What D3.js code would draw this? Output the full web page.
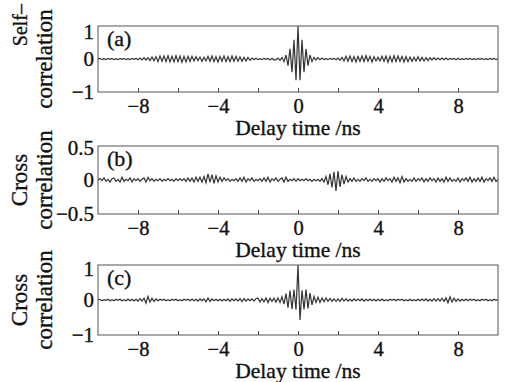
<!DOCTYPE html>
<html>
<head>
<meta charset="utf-8">
<script src="https://cdn.jsdelivr.net/npm/d3@7"></script>
<style>
  body { margin: 0; background: #fff; }
  svg text { font-family: "Liberation Serif", serif; fill: #111; stroke: #111; stroke-width: 0.35px; }
</style>
</head>
<body>
<div id="chart"></div>
<script>
// delay axis: samples every 0.1 ns from -10 ns to 10 ns
const tStart = -10;
const tStep = 0.1;

// (a) self-correlation
const selfCorr = [
  0, .02, -.02, .01, -.02, .02, -.01, .02, -.02, .01,
  -.02, .02, -.01, .02, -.02, .01, -.02, .02, -.01, .02,
  -.02, .03, -.03, .04, -.03, .04, -.05, .06, -.05, .07,
  -.08, .09, -.07, .09, -.08, .10, -.09, .08, -.09, .10,
  -.08, .09, -.10, .08, -.09, .08, -.07, .08, -.06, .07,
  -.05, .06, -.07, .05, -.06, .08, -.07, .09, -.08, .07,
  -.09, .08, -.07, .09, -.08, .07, -.08, .09, -.07, .08,
  -.07, .06, -.07, .05, -.06, .05, -.04, .03, -.02, .02,
  -.02, .01, -.02, .02, -.01, .02, -.03, .02, -.03, -.02,
  .03, -.04, .05, -.08, .12, -.20, .31, -.40, .58, -.64,
  1.0, -.64, .58, -.40, .31, -.20, .12, -.08, .05, -.03,
  .04, -.02, .03, -.02, .01, -.02, .02, -.01, .02, -.02,
  .03, -.04, .05, -.06, .08, -.07, .09, -.08, .07, -.09,
  .08, -.07, .09, -.08, .10, -.07, .08, -.09, .07, -.06,
  .05, -.06, .08, -.07, .09, -.10, .08, -.09, .10, -.08,
  .09, -.07, .08, -.09, .07, -.08, .06, -.07, .05, -.06,
  .07, -.06, .05, -.06, .04, -.05, .04, -.03, .04, -.03,
  .03, -.02, .03, -.02, .03, -.02, .02, -.01, .02, -.02,
  .02, -.02, .01, -.02, .02, -.01, .02, -.02, .01, -.02,
  .02, -.01, .02, -.02, .01, -.02, .02, -.01, .02, -.02, .01
];

// (b) cross-correlation
const crossCorrB = [
  0, .02, -.01, .03, -.02, .01, -.03, .02, .03, -.02,
  .01, -.03, .04, -.02, .01, -.01, .03, -.03, .02, -.01,
  .02, -.02, .01, .03, -.03, .04, -.01, .02, -.02, .01,
  -.01, .02, -.02, .01, -.01, .02, -.01, .01, -.02, .02,
  -.01, .02, -.01, .02, -.02, .03, -.02, .03, -.03, .04,
  -.02, .04, -.03, .05, -.04, .09, -.03, .08, -.05, .06,
  -.03, .04, -.02, .03, -.01, .02, -.02, .01, -.01, .02,
  -.02, .03, -.02, .04, -.03, .02, -.01, .03, -.02, .01,
  -.01, .02, -.02, .03, -.02, .04, -.03, .02, -.01, .03,
  -.02, .01, .03, -.03, .04, -.02, .01, -.01, .02, -.02,
  .02, -.01, .01, -.01, .02, -.01, .01, -.02, .01, -.01,
  .01, -.02, .02, -.03, .05, -.07, .09, -.11, .12, -.16,
  .13, -.10, .08, -.06, .05, -.03, .02, -.02, .03, -.02,
  .01, -.02, .02, -.01, .03, -.02, .01, -.02, .02, -.01,
  .02, -.03, .02, -.02, .03, -.01, .02, -.03, .04, -.02,
  .03, -.04, .05, -.03, .02, -.02, .01, -.02, .03, -.02,
  .02, -.01, .03, -.03, .02, -.02, .03, -.01, .02, -.03,
  .03, -.02, .02, -.03, .04, -.02, .03, -.02, .01, -.02,
  .03, -.03, .02, -.01, .03, -.02, .04, -.03, .02, -.02,
  .03, -.02, .04, -.03, .02, -.01, .03, -.02, .04, -.02, .01
];

// (c) cross-correlation
const crossCorrC = [
  0, .02, -.02, .01, -.01, .02, -.02, .01, -.02, .02,
  -.01, .02, -.02, .01, -.02, .03, -.02, .02, -.03, .02,
  -.03, .04, -.03, .05, -.09, .10, -.06, .05, -.04, .03,
  -.02, .02, -.01, .02, -.02, .01, -.02, .02, -.01, .02,
  -.02, .01, -.02, .02, -.01, .02, -.02, .03, -.02, .02,
  -.03, .03, -.02, .03, -.05, .06, -.04, .03, -.02, .02,
  -.02, .02, -.03, .02, -.02, .03, -.04, .03, -.02, .03,
  -.03, .04, -.05, .04, -.03, .03, -.02, .03, -.03, .04,
  .05, -.06, .04, -.05, .06, -.07, .05, -.04, .05, -.06,
  .06, -.07, .09, -.12, .18, -.22, .27, -.26, .30, -.28,
  1.0, -.57, .28, -.27, .30, -.24, .20, -.14, .10, -.07,
  .08, -.07, .06, -.05, .06, -.04, .05, -.04, .03, -.04,
  .03, -.04, .05, -.03, .04, -.03, .02, -.03, .03, -.02,
  .03, -.02, .03, -.03, .02, -.02, .03, -.02, .02, -.03,
  .02, -.02, .03, -.02, .01, -.02, .02, -.01, .02, -.02,
  .02, -.01, .02, -.02, .01, -.02, .02, -.02, .01, -.02,
  .02, -.02, .03, -.02, .03, -.03, .02, -.03, .04, -.03,
  .04, -.03, .05, -.04, .06, -.08, .09, -.06, .05, -.04,
  .03, -.03, .02, -.02, .03, -.02, .02, -.01, .02, -.02,
  .01, -.02, .02, -.01, .02, -.02, .01, -.02, .02, -.01, .01
];

const xDomain = [-10, 10];
const xTicks = [-8, -6, -4, -2, 0, 2, 4, 6, 8];
const xTitle = "Delay time /ns";

const panels = [
  { values: selfCorr,   yDomain: [-1, 1],     yTicks: [-1, 0, 1],     label: "(a)", title: ["Self–", "correlation"], top: 26,  bottom: 92,  topNudge: 6 },
  { values: crossCorrB, yDomain: [-0.5, 0.5], yTicks: [-0.5, 0, 0.5], label: "(b)", title: ["Cross", "correlation"], top: 146, bottom: 214, topNudge: 2 },
  { values: crossCorrC, yDomain: [-1, 1],     yTicks: [-1, 0, 1],     label: "(c)", title: ["Cross", "correlation"], top: 265, bottom: 335, topNudge: 4 }
];

const width = 509, height = 382;
const left = 98, right = 498;

const svg = d3.select("#chart").append("svg")
  .attr("width", width)
  .attr("height", height);

const x = d3.scaleLinear().domain(xDomain).range([left, right]);

panels.forEach(function(p, k) {
  const y = d3.scaleLinear().domain(p.yDomain).range([p.bottom, p.top]);
  const g = svg.append("g");

  // clip the trace to the frame
  const clipId = "clip" + k;
  svg.append("clipPath").attr("id", clipId)
    .append("rect")
    .attr("x", left).attr("y", p.top)
    .attr("width", right - left).attr("height", p.bottom - p.top);

  const line = d3.line()
    .x(function(d, i) { return x(tStart + i * tStep); })
    .y(function(d) { return y(d); });

  g.append("path")
    .datum(p.values)
    .attr("clip-path", "url(#" + clipId + ")")
    .attr("fill", "none")
    .attr("stroke", "#333")
    .attr("stroke-width", 1.2)
    .attr("d", line);

  // bottom axis with inward ticks
  const xAxis = d3.axisBottom(x)
    .tickValues(xTicks)
    .tickSizeInner(-4)
    .tickSizeOuter(0)
    .tickPadding(6)
    .tickFormat(function(d) { return d % 4 === 0 ? d3.format("d")(d) : ""; });

  const gx = g.append("g")
    .attr("transform", "translate(0," + p.bottom + ")")
    .call(xAxis);
  gx.select(".domain").remove();
  gx.selectAll("line").attr("stroke", "#444");
  gx.selectAll("text").attr("font-size", 20.5);

  const yAxis = d3.axisLeft(y)
    .tickValues(p.yTicks)
    .tickSize(0)
    .tickPadding(4)
    .tickFormat(d3.format("~g"));

  const gy = g.append("g")
    .attr("transform", "translate(" + left + ",0)")
    .call(yAxis);
  gy.select(".domain").remove();
  gy.selectAll("text")
    .attr("font-size", 21)
    .attr("dy", function(d) { return d === p.yDomain[1] ? (0.32 * 21 + p.topNudge) + "px" : "0.32em"; });

  // frame
  g.append("rect")
    .attr("x", left).attr("y", p.top)
    .attr("width", right - left).attr("height", p.bottom - p.top)
    .attr("fill", "none")
    .attr("stroke", "#555")
    .attr("stroke-width", 1);

  // panel letter
  g.append("text")
    .attr("x", left + 9)
    .attr("y", p.top + 20)
    .attr("font-size", 22)
    .text(p.label);

  // x title
  g.append("text")
    .attr("x", (left + right) / 2)
    .attr("y", p.bottom + 43)
    .attr("text-anchor", "middle")
    .attr("font-size", 21.5)
    .text(xTitle);

  // y title, two lines
  const mid = (p.top + p.bottom) / 2;
  const first = g.append("text")
    .text(p.title[0]);
  if (k === 0) {
    // "Self–" sits at the top of the first panel
    first.attr("transform", "translate(27,4) rotate(-90)")
      .attr("text-anchor", "end")
      .attr("font-size", 20);
  } else {
    first.attr("transform", "translate(27," + mid + ") rotate(-90)")
      .attr("text-anchor", "middle")
      .attr("font-size", 23);
  }
  g.append("text")
    .attr("transform", "translate(52," + mid + ") rotate(-90)")
    .attr("text-anchor", "middle")
    .attr("font-size", 23)
    .text(p.title[1]);
});
</script>
</body>
</html>
